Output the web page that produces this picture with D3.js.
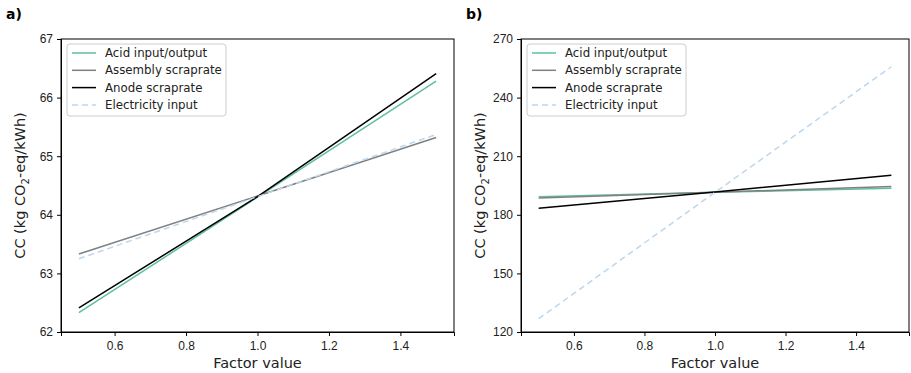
<!DOCTYPE html>
<html>
<head>
<meta charset="utf-8">
<script src="https://cdn.jsdelivr.net/npm/d3@7"></script>
<style>
  body { margin: 0; background: #fff; }
  svg { font-family: "DejaVu Sans", sans-serif; }
  .tick text { font-size: 12px; fill: #222; }
  .tick line, .domain { stroke: #000; }
</style>
</head>
<body>
<svg id="chart" width="911" height="373"></svg>
<script>
// dati
const factors = [0.5, 1.0, 1.5];
const seriesNames = ["Acid input/output", "Assembly scraprate", "Anode scraprate", "Electricity input"];
const seriesColors = ["#5dbf9f", "#808080", "#000000", "#bcd7ee"];
const seriesDash = [null, null, null, "6,4"];

// pannello a)
const valuesA = [
  [62.33, 64.30, 66.28],
  [63.33, 64.32, 65.32],
  [62.41, 64.31, 66.41],
  [63.25, 64.31, 65.37]
];
// pannello b)
const valuesB = [
  [189.3, 191.5, 193.6],
  [188.6, 191.6, 194.5],
  [183.3, 191.7, 200.2],
  [126.8, 191.5, 255.8]
];
const yTicksA = [62, 63, 64, 65, 66, 67];
const yTicksB = [120, 150, 180, 210, 240, 270];
const xTicks = [0.6, 0.8, 1.0, 1.2, 1.4];

const svg = d3.select("#chart");

function panel(left, right, values, yTicks, label) {
  const top = 39, bottom = 332;
  const x = d3.scaleLinear().domain([0.45, 1.55]).range([left, right]);
  const y = d3.scaleLinear().domain([yTicks[0], yTicks[yTicks.length - 1]]).range([bottom, top]);

  const g = svg.append("g");

  // linee
  values.forEach((vals, i) => {
    const line = d3.line().x((d, j) => x(factors[j])).y(d => y(d));
    g.append("path")
      .datum(vals)
      .attr("d", line)
      .attr("fill", "none")
      .attr("stroke", seriesColors[i])
      .attr("stroke-width", 1.5)
      .attr("stroke-dasharray", seriesDash[i]);
  });

  // assi
  g.append("g")
    .attr("transform", `translate(0,${bottom})`)
    .call(d3.axisBottom(x).tickValues(xTicks).tickFormat(d3.format(".1f")).tickSizeOuter(0).tickSize(4).tickPadding(5));
  g.append("g")
    .attr("transform", `translate(${left},0)`)
    .call(d3.axisLeft(y).tickValues(yTicks).tickFormat(d3.format("d")).tickSizeOuter(0).tickSize(4).tickPadding(4));

  // cornice
  g.append("rect")
    .attr("x", left).attr("y", top)
    .attr("width", right - left).attr("height", bottom - top)
    .attr("fill", "none").attr("stroke", "#000").attr("stroke-width", 1);

  // etichette assi
  g.append("text")
    .attr("x", (left + right) / 2).attr("y", 368)
    .attr("text-anchor", "middle").attr("font-size", 14.5).attr("fill", "#222")
    .text("Factor value");
  const yl = g.append("text")
    .attr("transform", `translate(${left - 36},${(top + bottom) / 2}) rotate(-90)`)
    .attr("text-anchor", "middle").attr("font-size", 14.5).attr("fill", "#222");
  yl.append("tspan").text("CC (kg CO");
  yl.append("tspan").attr("font-size", 10).attr("dy", 4).text("2");
  yl.append("tspan").attr("dy", -4).text("-eq/kWh)");

  // titolo pannello
  g.append("text")
    .attr("x", left - 55).attr("y", 19)
    .attr("font-size", 14).attr("font-weight", "bold").attr("fill", "#000")
    .text(label);

  // legenda
  const lg = g.append("g").attr("transform", `translate(${left + 6},44)`);
  lg.append("rect")
    .attr("width", 159).attr("height", 72).attr("rx", 3)
    .attr("fill", "#fff").attr("fill-opacity", 0.8)
    .attr("stroke", "#ccc");
  seriesNames.forEach((name, i) => {
    const yy = 9 + i * 17.3;
    lg.append("line")
      .attr("x1", 5).attr("x2", 29).attr("y1", yy).attr("y2", yy)
      .attr("stroke", seriesColors[i]).attr("stroke-width", 1.5)
      .attr("stroke-dasharray", seriesDash[i]);
    lg.append("text")
      .attr("x", 38).attr("y", yy + 4)
      .attr("font-size", 11.8).attr("fill", "#222")
      .text(name);
  });
}

panel(61, 454, valuesA, yTicksA, "a)");
panel(521, 909, valuesB, yTicksB, "b)");
</script>
</body>
</html>
